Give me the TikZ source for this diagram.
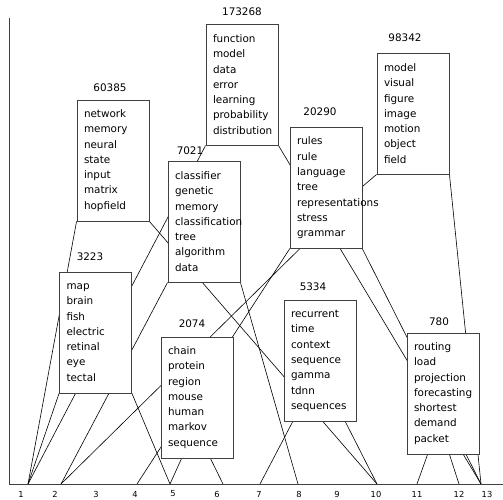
\documentclass[tikz,border=0pt]{standalone}
\usepackage{fontspec}
\setmainfont{DejaVu Sans}
\usetikzlibrary{backgrounds}
\hyphenpenalty=10000
\exhyphenpenalty=10000

\begin{document}
\begin{tikzpicture}[
    x=1pt, y=-1pt,
    mybox/.style={draw=black!75, line width=0.9pt, fill=white, minimum width=72pt, minimum height=121pt,
        text width=58pt, inner xsep=7pt, inner ysep=0pt, align=left, font=\fontsize{10.4}{15.3}\selectfont},
    mynum/.style={font=\fontsize{10.4}{12}\selectfont},
    mytick/.style={font=\fontsize{8.3}{10}\selectfont},
    myline/.style={black, line width=0.6pt},
    myaxis/.style={black!75, line width=1pt}
]
    \useasboundingbox (0,0) rectangle (503,499);

    % Axes
    \draw[myaxis] (9,18) -- (9,484) -- (503,484);
    \foreach \n/\x in {1/21, 2/55, 3/96, 4/135, 5/173, 6/217, 7/259, 8/299, 9/337, 10/376, 11/417, 12/459, 13/487} {
        \node[mytick] (tick\n) at (\x,494) {\n};
    }
    \foreach \n/\x in {1/28, 2/61, 4/137, 5/170, 6/223, 7/260, 8/298, 10/377, 11/417, 12/459, 13/481} {
        \coordinate (leaf\n) at (\x,484);
    }

    % Topic boxes
    \node[mybox] (t173268) at (242,84.5) {function\\model\\data\\error\\learning\\probability\\distribution};
    \node[mynum] (n173268) at (242,12) {173268};
    \node[mybox] (t60385) at (113,160.5) {network\\memory\\neural\\state\\input\\matrix\\hopfield};
    \node[mynum] (n60385) at (110,88) {60385};
    \node[mybox] (t98342) at (413,113.5) {model\\visual\\figure\\image\\motion\\object\\field};
    \node[mynum] (n98342) at (405,38) {98342};
    \node[mybox] (t20290) at (326,188) {rules\\rule\\language\\tree\\representations\\stress\\grammar};
    \node[mynum] (n20290) at (320,112) {20290};
    \node[mybox] (t7021) at (204,221.5) {classifier\\genetic\\memory\\classification\\tree\\algorithm\\data};
    \node[mynum] (n7021) at (190,151) {7021};
    \node[mybox] (t3223) at (95.5,332.5) {map\\brain\\fish\\electric\\retinal\\eye\\tectal};
    \node[mynum] (n3223) at (90,257) {3223};
    \node[mybox] (t5334) at (320,361) {recurrent\\time\\context\\sequence\\gamma\\tdnn\\sequences};
    \node[mynum] (n5334) at (313,287) {5334};
    \node[mybox] (t780) at (443,393.5) {routing\\load\\projection\\forecasting\\shortest\\demand\\packet};
    \node[mynum] (n780) at (439,322) {780};
    \node[mybox] (t2074) at (197,397.5) {chain\\protein\\region\\mouse\\human\\markov\\sequence};
    \node[mynum] (n2074) at (192,324) {2074};

    % Links (behind the boxes)
    \begin{scope}[on background layer]
        \draw[myline] (t173268.south west) -- (leaf1);
        \draw[myline] (t173268.south east) -- (leaf13);
        \draw[myline] (t60385.south west) -- (leaf1);
        \draw[myline] (t60385.south east) -- (leaf10);
        \draw[myline] (t98342.south west) -- (t20290.south west);
        \draw[myline] (t98342.south east) -- (leaf13);
        \draw[myline] (t20290.south west) -- (leaf4);
        \draw[myline] ([xshift=10pt]t20290.south west) -- (leaf2);
        \draw[myline] (t20290.south east) -- (leaf13);
        \draw[myline] (t7021.south west) -- (leaf2);
        \draw[myline] (t7021.south east) -- (leaf8);
        \draw[myline] (t3223.south west) -- (leaf1);
        \draw[myline] (t3223.south east) -- (leaf5);
        \draw[myline] ([xshift=21pt]t2074.south west) -- (leaf5);
        \draw[myline] ([xshift=-23pt]t2074.south east) -- (leaf6);
        \draw[myline] ([xshift=9pt]t5334.south west) -- (leaf7);
        \draw[myline] ([xshift=-11pt]t5334.south east) -- (leaf10);
        \draw[myline] ([xshift=21pt]t780.south west) -- (leaf11);
        \draw[myline] ([xshift=-30pt]t780.south east) -- (leaf12);
    \end{scope}
\end{tikzpicture}
\end{document}
